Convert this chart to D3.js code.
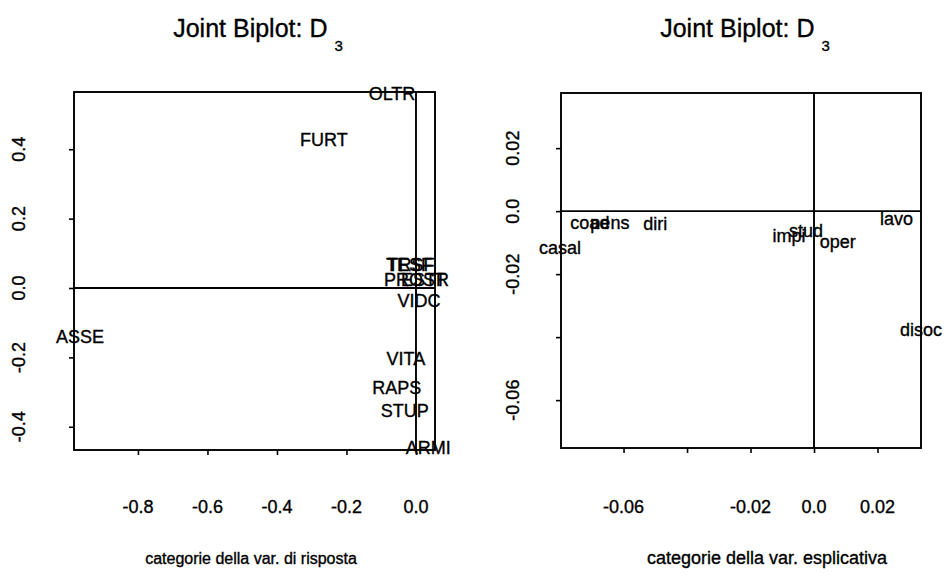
<!DOCTYPE html>
<html>
<head>
<meta charset="utf-8">
<script src="https://cdn.jsdelivr.net/npm/d3@7"></script>
<style>
  html, body { margin: 0; padding: 0; background: #fff; }
  svg { display: block; }
  text { font-family: "Liberation Sans", Arial, Helvetica, sans-serif; fill: #000; stroke: #000; stroke-width: 0.35px; }
</style>
</head>
<body>
<svg id="chart" width="944" height="576"></svg>
<script>
// ---------- data ----------
const leftLabels = ["OLTR", "FURT", "TESF", "TRSF", "PROST", "ESTR", "VIDC", "ASSE", "VITA", "RAPS", "STUP", "ARMI"];
const leftX = [-0.069, -0.265, -0.020, -0.014, -0.003, 0.026, 0.009, -0.967, -0.029, -0.055, -0.032, 0.035];
const leftY = [0.562, 0.429, 0.069, 0.069, 0.023, 0.023, -0.035, -0.141, -0.202, -0.288, -0.352, -0.461];

const rightLabels = ["coad", "pens", "diri", "casal", "stud", "impi", "oper", "lavo", "disoc"];
const rightX = [-0.0706, -0.0643, -0.050, -0.080, -0.0025, -0.0079, 0.0075, 0.026, 0.0337];
const rightY = [-0.0035, -0.0035, -0.0038, -0.0114, -0.0063, -0.0079, -0.0095, -0.0025, -0.0375];

const leftXTicks = [-0.8, -0.6, -0.4, -0.2, 0.0];
const leftXTickLabels = ["-0.8", "-0.6", "-0.4", "-0.2", "0.0"];
const leftYTicks = [-0.4, -0.2, 0.0, 0.2, 0.4];
const leftYTickLabels = ["-0.4", "-0.2", "0.0", "0.2", "0.4"];

const rightXTicks = [-0.06, -0.04, -0.02, 0.0, 0.02];
const rightXTickLabels = ["-0.06", "", "-0.02", "0.0", "0.02"];
const rightYTicks = [-0.06, -0.04, -0.02, 0.0, 0.02];
const rightYTickLabels = ["-0.06", "", "-0.02", "0.0", "0.02"];

const titleMain = "Joint Biplot: D";
const titleSub = "3";
const leftXTitle = "categorie della var. di risposta";
const rightXTitle = "categorie della var. esplicativa";

// ---------- drawing ----------
const svg = d3.select("#chart");

function panel(cfg) {
  const g = svg.append("g");
  const x = d3.scaleLinear().domain(cfg.xDomain).range([cfg.left, cfg.right]);
  const y = d3.scaleLinear().domain(cfg.yDomain).range([cfg.bottom, cfg.top]);
  const lw = 1.9;

  // frame
  g.append("rect")
    .attr("x", cfg.left).attr("y", cfg.top)
    .attr("width", cfg.right - cfg.left).attr("height", cfg.bottom - cfg.top)
    .attr("fill", "none").attr("stroke", "#000").attr("stroke-width", lw);

  // zero lines
  g.append("line")
    .attr("x1", cfg.left).attr("x2", cfg.right)
    .attr("y1", y(0)).attr("y2", y(0))
    .attr("stroke", "#000").attr("stroke-width", lw);
  g.append("line")
    .attr("x1", x(0)).attr("x2", x(0))
    .attr("y1", cfg.top).attr("y2", cfg.bottom)
    .attr("stroke", "#000").attr("stroke-width", lw);

  // bottom axis
  const xAxis = d3.axisBottom(x).tickValues(cfg.xTicks)
    .tickSize(5).tickFormat(() => "");
  const gx = g.append("g").attr("transform", `translate(0,${cfg.bottom})`).call(xAxis);
  gx.select(".domain").remove();
  gx.selectAll(".tick line").attr("stroke", "#000").attr("stroke-width", 1.6);
  g.selectAll(".xlab").data(cfg.xTicks).enter().append("text")
    .attr("x", d => x(d)).attr("y", cfg.xLabBase)
    .attr("text-anchor", "middle").attr("font-size", cfg.tickFs)
    .text((d, i) => cfg.xTickLabels[i]);

  // left axis
  const yAxis = d3.axisLeft(y).tickValues(cfg.yTicks)
    .tickSize(5).tickFormat(() => "");
  const gy = g.append("g").attr("transform", `translate(${cfg.left},0)`).call(yAxis);
  gy.select(".domain").remove();
  gy.selectAll(".tick line").attr("stroke", "#000").attr("stroke-width", 1.6);
  g.selectAll(".ylab").data(cfg.yTicks).enter().append("text")
    .attr("transform", d => `translate(${cfg.yLabBase},${y(d)}) rotate(-90)`)
    .attr("text-anchor", "middle").attr("font-size", cfg.tickFs)
    .text((d, i) => cfg.yTickLabels[i]);

  // point labels
  const fs = 18;
  g.selectAll(".pt").data(cfg.labels).enter().append("text")
    .attr("x", (d, i) => x(cfg.px[i]))
    .attr("y", (d, i) => y(cfg.py[i]) + fs * 0.36)
    .attr("text-anchor", "middle").attr("font-size", fs)
    .text(d => d);

  // title
  const t = g.append("text")
    .attr("x", cfg.titleX).attr("y", 37)
    .attr("text-anchor", "middle").attr("font-size", 25);
  t.append("tspan").text(titleMain);
  t.append("tspan").attr("dx", 7).attr("dy", 14).attr("font-size", 15).text(titleSub);

  // x title
  g.append("text")
    .attr("x", cfg.xTitleX).attr("y", 564)
    .attr("text-anchor", "middle").attr("font-size", cfg.xTitleFs)
    .text(cfg.xTitle);
}

panel({
  left: 74, right: 435, top: 92, bottom: 450,
  xDomain: [-0.984, 0.0547], yDomain: [-0.467, 0.565],
  xTicks: leftXTicks, xTickLabels: leftXTickLabels,
  yTicks: leftYTicks, yTickLabels: leftYTickLabels,
  labels: leftLabels, px: leftX, py: leftY,
  tickFs: 18, xLabBase: 513, yLabBase: 24.5,
  titleX: 258, xTitleX: 251, xTitle: leftXTitle, xTitleFs: 16
});

panel({
  left: 561, right: 921, top: 93, bottom: 448,
  xDomain: [-0.0797, 0.0337], yDomain: [-0.0752, 0.0375],
  xTicks: rightXTicks, xTickLabels: rightXTickLabels,
  yTicks: rightYTicks, yTickLabels: rightYTickLabels,
  labels: rightLabels, px: rightX, py: rightY,
  tickFs: 18, xLabBase: 513, yLabBase: 518.5,
  titleX: 745, xTitleX: 767, xTitle: rightXTitle, xTitleFs: 18
});
</script>
</body>
</html>
